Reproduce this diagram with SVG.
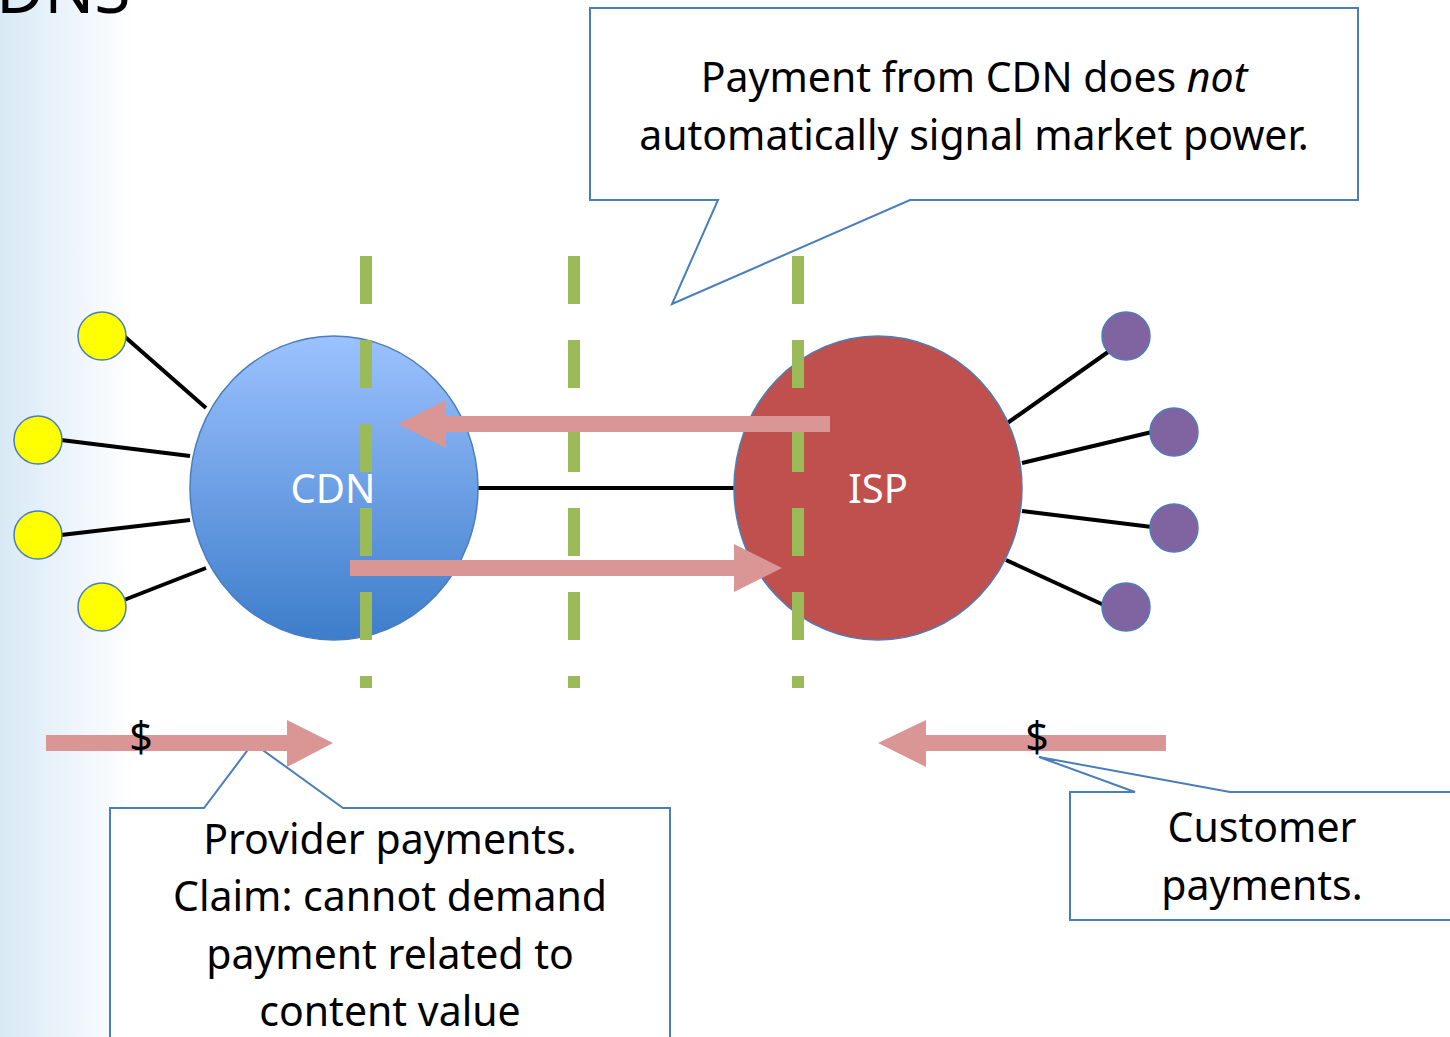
<svg xmlns="http://www.w3.org/2000/svg" width="1450" height="1037" viewBox="0 0 1450 1037">
<defs>
<linearGradient id="bg" x1="0" y1="0" x2="1" y2="0">
<stop offset="0" stop-color="#d8e9f5"/>
<stop offset="0.55" stop-color="#eef5fb"/>
<stop offset="1" stop-color="#ffffff"/>
</linearGradient>
<linearGradient id="cdnfill" x1="0" y1="0" x2="0" y2="1">
<stop offset="0" stop-color="#9cc2ff"/>
<stop offset="1" stop-color="#3d7dca"/>
</linearGradient>
<style>
.txt{font-family:"Noto Sans","Open Sans","DejaVu Sans",sans-serif;fill:#000;text-anchor:middle;font-size:41px}
.lbl{font-family:"Noto Sans","Open Sans","DejaVu Sans",sans-serif;fill:#fff;text-anchor:middle;font-size:40px}
.callout{fill:#fff;stroke:#4a7ebb;stroke-width:2}
.pay{fill:#d99694}
.link{stroke:#000;stroke-width:4}
.div{stroke:#9bbb59;stroke-width:12;stroke-dasharray:48 36}
.yel{fill:#ffff00;stroke:#4a7ebb;stroke-width:1.5}
.pur{fill:#8064a2;stroke:#4a7ebb;stroke-width:1.5}
</style>
</defs>
<rect x="0" y="0" width="1450" height="1037" fill="#fff"/>
<rect x="0" y="0" width="135" height="1037" fill="url(#bg)"/>
<text x="-4" y="13" style="font-family:'Noto Sans','Open Sans',sans-serif;font-size:66px;fill:#000">DNS</text>

<g id="connectors">
<line class="link" x1="478" y1="488" x2="734" y2="488"/>
<line class="link" x1="124" y1="336" x2="206" y2="408"/>
<line class="link" x1="61" y1="440" x2="190" y2="456"/>
<line class="link" x1="61" y1="535" x2="190" y2="520"/>
<line class="link" x1="124" y1="600" x2="206" y2="568"/>
<line class="link" x1="1006" y1="424" x2="1108" y2="352"/>
<line class="link" x1="1022" y1="463" x2="1152" y2="432"/>
<line class="link" x1="1022" y1="511" x2="1152" y2="527"/>
<line class="link" x1="1006" y1="560" x2="1106" y2="606"/>
</g>

<g id="leaf-y1"><circle class="yel" cx="102" cy="336" r="24"/></g>
<g id="leaf-y2"><circle class="yel" cx="38" cy="440" r="24"/></g>
<g id="leaf-y3"><circle class="yel" cx="38" cy="535" r="24"/></g>
<g id="leaf-y4"><circle class="yel" cx="102" cy="607" r="24"/></g>
<g id="leaf-p1"><circle class="pur" cx="1126" cy="336" r="24"/></g>
<g id="leaf-p2"><circle class="pur" cx="1174" cy="432" r="24"/></g>
<g id="leaf-p3"><circle class="pur" cx="1174" cy="528" r="24"/></g>
<g id="leaf-p4"><circle class="pur" cx="1126" cy="607" r="24"/></g>

<g id="cdn">
<ellipse cx="334" cy="488" rx="144" ry="152" fill="url(#cdnfill)" stroke="#4a7ebb" stroke-width="1.5"/>
<text class="lbl" x="333" y="503">CDN</text>
</g>
<g id="isp">
<ellipse cx="878" cy="488" rx="144" ry="152" fill="#c0504d" stroke="#4a7ebb" stroke-width="1.5"/>
<text class="lbl" x="878" y="503">ISP</text>
</g>

<g id="dividers">
<line class="div" x1="366" y1="256" x2="366" y2="688"/>
<line class="div" x1="574" y1="256" x2="574" y2="688"/>
<line class="div" x1="798" y1="256" x2="798" y2="688"/>
</g>

<g id="flow-arrows">
<polygon class="pay" points="830,416 446,416 446,400 398,424 446,448 446,432 830,432"/>
<polygon class="pay" points="350,560 734,560 734,544 782,568 734,592 734,576 350,576"/>
</g>

<g id="callout-top">
<path class="callout" d="M590,8 H1358 V200 H910 L672,304 L718,200 H590 Z"/>
<text class="txt" x="974" y="92">Payment from CDN does <tspan font-style="italic">not</tspan></text>
<text class="txt" x="974" y="150">automatically signal market power.</text>
</g>

<g id="callout-provider">
<path class="callout" d="M110,1040 V808 H204 L253,743 L343,808 H670 V1040"/>
<text class="txt" x="390" y="854">Provider payments.</text>
<text class="txt" x="390" y="911">Claim: cannot demand</text>
<text class="txt" x="390" y="969">payment related to</text>
<text class="txt" x="390" y="1026">content value</text>
</g>

<g id="callout-customer">
<path class="callout" d="M1455,920 H1070 V792 H1135 L1039,757 L1230,792 H1455"/>
<text class="txt" x="1262" y="842">Customer</text>
<text class="txt" x="1262" y="900">payments.</text>
</g>

<g id="payment-provider">
<polygon class="pay" points="46,735 287,735 287,720 333,743 287,767 287,751 46,751"/>
<text class="txt" x="141" y="752">$</text>
</g>
<g id="payment-customer">
<polygon class="pay" points="1166,735 926,735 926,720 878,743 926,767 926,751 1166,751"/>
<text class="txt" x="1037" y="752">$</text>
</g>
</svg>
